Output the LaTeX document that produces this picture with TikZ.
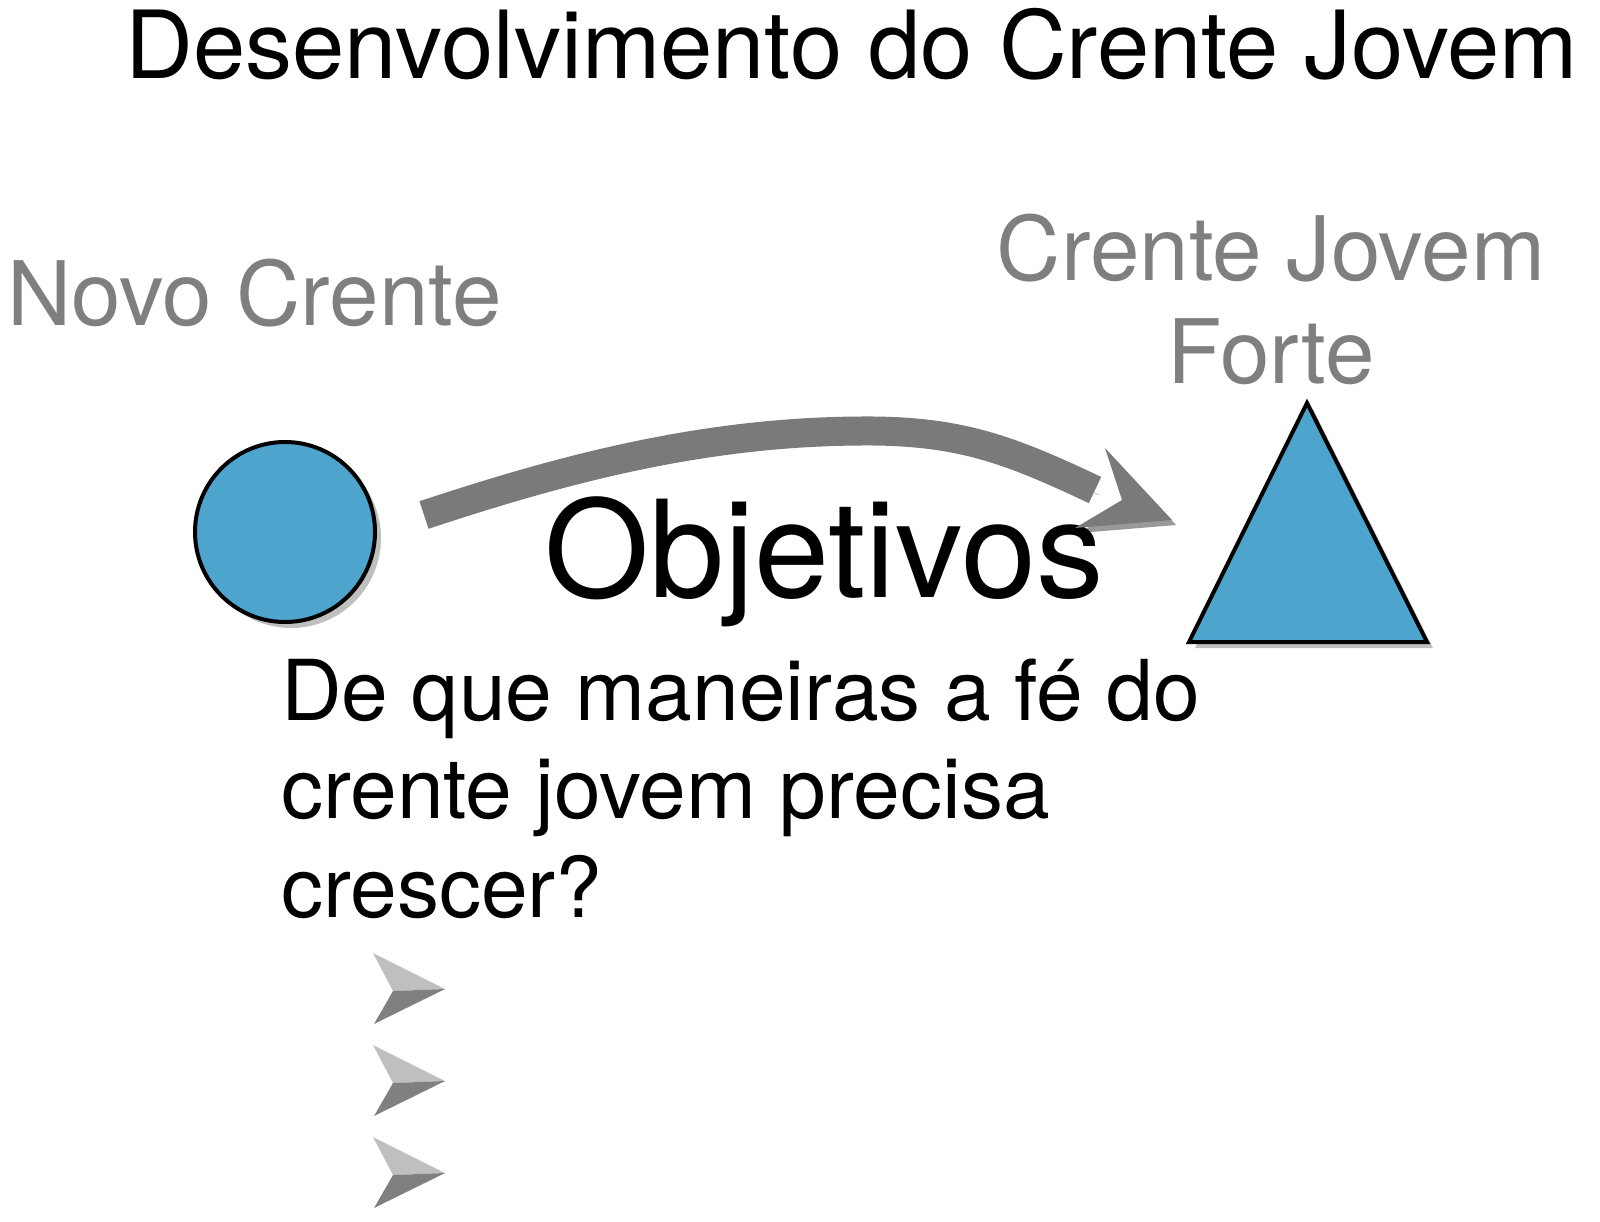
\documentclass[tikz,border=0pt]{standalone}
\usepackage{fontspec}
\setmainfont{TeX Gyre Heros}
\usetikzlibrary{shadows}
\definecolor{fieldblue}{HTML}{4DA5CD}
\definecolor{labelgray}{HTML}{7F7F7F}
\definecolor{bandgray}{HTML}{7A7A7A}
\tikzstyle{title}=[anchor=base west, inner sep=0, font=\fontsize{94}{112}\selectfont]
\tikzstyle{stage}=[inner sep=0, text=labelgray, font=\fontsize{89}{103}\selectfont]
\tikzstyle{form}=[draw=black, line width=4pt, fill=fieldblue,
  drop shadow={shadow xshift=6pt, shadow yshift=-6pt, opacity=0.5}]
\tikzstyle{band}=[draw=bandgray, line width=29pt,
  preaction={draw=black, opacity=0.4, transform canvas={xshift=4pt, yshift=-5pt}}]
\tikzstyle{head}=[fill=bandgray,
  preaction={fill=black, opacity=0.4, transform canvas={xshift=4pt, yshift=-5pt}}]
\tikzstyle{pointerlight}=[fill=black!25]
\tikzstyle{pointerdark}=[fill=black!50]
\begin{document}
\begin{tikzpicture}[x=1pt, y=-1pt]
\useasboundingbox (0,0) rectangle (1600,1221);
\draw (125,78) node[title](heading){Desenvolvimento do Crente Jovem};
%
\draw (285,532) node[form, circle, minimum size=180pt, inner sep=0](novo){};
\draw (7,325) node[stage, anchor=base west](novolabel){Novo Crente};
%
\draw[form] (1307,403) coordinate(topo) -- (1427,642) -- (1189,642) -- cycle;
\draw (1271,383) node[stage, anchor=base, align=center](fortelabel)
  {Crente Jovem\\Forte};
%
\draw (544,597) node[anchor=base west, inner sep=0,
  font=\fontsize{135}{160}\selectfont](objetivos){Objetivos};
\coordinate (fim) at (1095,490);
\coordinate (ponta) at (1172,520);
\draw[band] ([xshift=47pt, yshift=17pt] novo.east) .. controls (560,470) and (700,432) 
  .. (860,431) .. controls (960,430) and (1010,450) .. (fim);
\fill[head] (ponta) -- ++(-67,-72) -- ++(17,52) -- ++(-47,28) -- cycle;
%
\draw (281,917) node[anchor=base west, inner sep=0, align=left,
  font=\fontsize{84}{98.5}\selectfont](pergunta)
  {De que maneiras a fé do\\crente jovem precisa\\crescer?};
%
\foreach \y in {990,1082,1174}{
  \fill[pointerlight] (373,\y-37) -- (445,\y-1) -- (393,\y+1) -- cycle;
  \fill[pointerdark] (393,\y+1) -- (445,\y-1) -- (374,\y+34) -- cycle;
}
\end{tikzpicture}
\end{document}
